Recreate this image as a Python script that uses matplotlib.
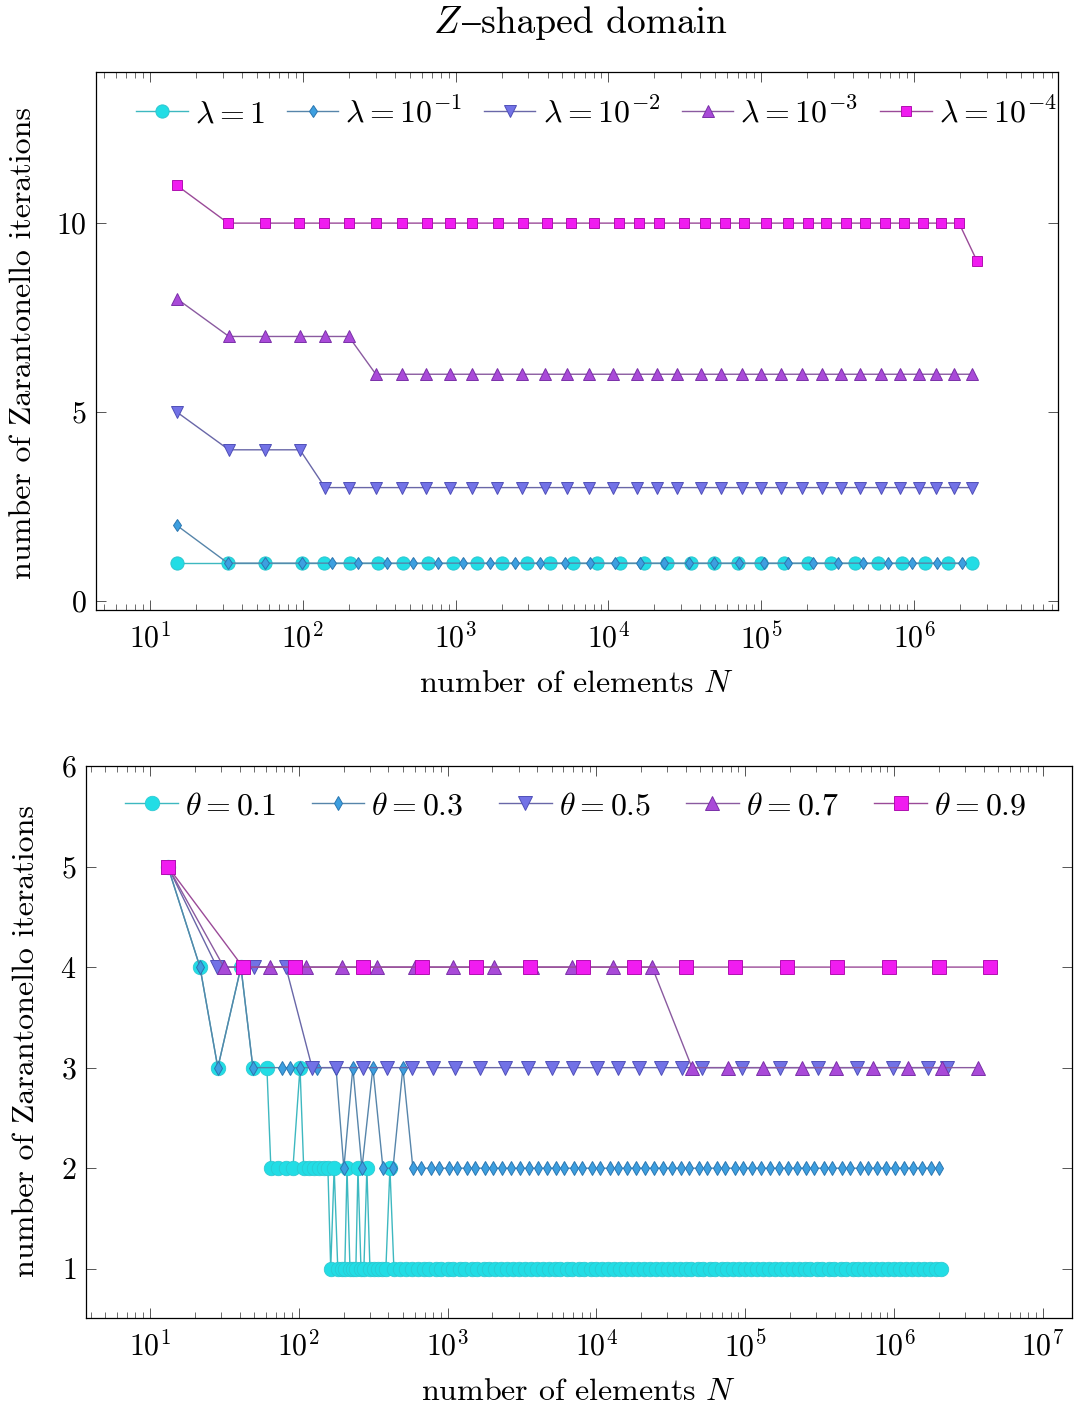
import numpy as np
import matplotlib
matplotlib.use("Agg")
import matplotlib.pyplot as plt
from matplotlib.ticker import LogLocator, NullFormatter
from matplotlib.offsetbox import TextArea, HPacker, AnchoredOffsetbox

plt.rcParams['font.family'] = ['cmr10', 'STIXGeneral']
plt.rcParams['mathtext.fontset'] = 'cm'
plt.rcParams['axes.formatter.use_mathtext'] = True

# ==========================================
# Top panel: dependence on lambda
# ==========================================
lam_labels = [r'$\lambda = 1$', r'$\lambda = 10^{-1}$', r'$\lambda = 10^{-2}$',
              r'$\lambda = 10^{-3}$', r'$\lambda = 10^{-4}$']

n_lam0 = [15, 32.4, 56.6, 98.9, 138, 204, 310, 453, 659, 962, 1380, 2010, 2930, 4150,
          5900, 8410, 12000, 17100, 24300, 34600, 49200, 70100, 99800, 142000, 202000,
          288000, 410000, 583000, 830000, 1180000, 1680000, 2400000]
it_lam0 = [1] * 32

n_lam1 = [15, 32.4, 56.6, 98.9, 155, 230, 355, 526, 767, 1120, 1680, 2450, 3570, 5200,
          7580, 11000, 16100, 23100, 33700, 49100, 71600, 104000, 150000, 218000, 318000,
          463000, 676000, 970000, 1420000, 2060000]
it_lam1 = [2] + [1] * 29

# lambda = 1e-2 and 1e-3 were run on the same meshes
n_lam23 = [15, 32.9, 56.6, 95.9, 140, 200, 301, 446, 640, 919, 1280, 1870, 2720, 3850,
           5360, 7460, 10700, 15400, 20800, 28100, 40400, 54600, 74800, 99700, 135000,
           185000, 250000, 333000, 443000, 608000, 809000, 1080000, 1390000, 1830000,
           2400000]
it_lam2 = [5, 4, 4, 4] + [3] * 31
it_lam3 = [8] + [7] * 5 + [6] * 29

n_lam4 = [15, 32.5, 56.6, 94.4, 138, 201, 300, 444, 647, 919, 1290, 1900, 2770, 3960,
          5690, 8050, 11700, 15800, 21400, 31200, 42900, 57900, 77100, 107000, 150000,
          202000, 265000, 359000, 478000, 646000, 861000, 1150000, 1500000, 1970000,
          2580000]
it_lam4 = [11] + [10] * 33 + [9]

# ==========================================
# Bottom panel: dependence on theta
# ==========================================
theta_labels = [r'$\theta = 0.1$', r'$\theta = 0.3$', r'$\theta = 0.5$',
                r'$\theta = 0.7$', r'$\theta = 0.9$']

n_th1 = [13.2, 21.7, 28.6, 40.9, 49.2, 61.1, 65.0, 72.5, 82.0, 91.4, 102, 108, 117, 126,
         137, 148, 157, 164, 173, 183, 195, 204, 211, 221, 231, 242, 250, 262, 274, 287,
         301, 320, 341, 362, 385, 410, 436,
         481, 522, 578, 629, 695, 756, 836, 909, 1004, 1093, 1207, 1314, 1451, 1580,
         1744, 1899, 2095, 2284, 2520, 2747, 3028, 3302, 3640, 3972, 4377, 4773, 5261,
         5739, 6326, 6901, 7605, 8297, 9143, 9975, 10990, 11990, 13210, 14410, 15890,
         17330, 19100, 20830, 22970, 25050, 27610, 30110, 33200, 36210, 39920, 43530,
         47990, 52330, 57700, 62920, 69370, 75650, 83410, 90940, 100300, 109300, 120500,
         131400, 144900, 158000, 174300, 189900, 209500, 228400, 251900, 274600, 302800,
         330100, 364100, 396900, 437700, 477200, 526200, 573700, 632700, 689800, 760700,
         829400, 914500, 997100, 1099000, 1199000, 1322000, 1441000, 1589000, 1733000,
         1910000, 2083000]
it_th1 = ([5, 4, 3, 4, 3, 3, 2, 2, 2, 2, 3, 2, 2, 2, 2, 2, 2, 1, 2, 1,
           1, 1, 2, 1, 1, 1, 2, 1, 1, 2, 1, 1, 1, 1, 1, 2, 1] + [1] * 92)

n_th3 = [13.2, 21.7, 28.6, 40.9, 49.2, 77.1, 87.3, 102, 132, 178, 201, 231, 266, 315,
         368, 430, 501, 585,
         668, 774, 881, 1021, 1162, 1346, 1531, 1773, 2019, 2337, 2661, 3082, 3509,
         4063, 4627, 5355, 6098, 7060, 8039, 9305, 10600, 12270, 13970, 16180, 18410,
         21320, 24280, 28100, 32010, 37050, 42190, 48830, 55620, 64380, 73320, 84870,
         96650, 111900, 127400, 147500, 168000, 194400, 221400, 256300, 291900, 337900,
         384800, 445400, 507200, 587200, 668600, 774100, 881300, 1020000, 1162000,
         1345000, 1532000, 1773000, 2019000]
it_th3 = [5, 4, 3, 4, 3, 3, 3, 3, 3, 3, 2, 3, 2, 3, 2, 2, 3, 2] + [2] * 59

n_th5 = [13.2, 28.2, 50.0, 82.0, 123, 178, 270, 391, 577, 798, 1120, 1650, 2430, 3470,
         5040, 6970, 10100, 14000, 19300, 27200, 37600, 51300, 95100, 171000, 308000,
         564000, 984000, 1690000, 2270000]
it_th5 = [5, 4, 4, 4] + [3] * 25

n_th7 = [13.2, 31.4, 64.0, 112, 195, 335, 604, 1090, 2050, 3690, 6860, 12900, 23700,
         43900, 76600, 132000, 241000, 407000, 723000, 1240000, 2100000, 3670000]
it_th7 = [5] + [4] * 12 + [3] * 9

n_th9 = [13.2, 42.2, 94.3, 270, 673, 1550, 3580, 8130, 17900, 40000, 85300, 191000,
         414000, 925000, 2000000, 4420000]
it_th9 = [5] + [4] * 15

# marker, face colour, edge colour, line colour
styles = [
    ('o', '#22dde5', '#2cc6cf', '#3db8c0'),
    ('d', '#3d9fe0', '#2a76b0', '#5685aa'),
    ('v', '#7272e6', '#4f4fb8', '#6967a8'),
    ('^', '#a94ad8', '#7a30a8', '#8a5aa0'),
    ('s', '#f01cf0', '#b010b0', '#9a4a98'),
]
top_ms = [9.5, 6.0, 8.0, 8.0, 7.8]
bot_ms = [10.5, 6.8, 9.5, 9.5, 9.4]

top_series = [(n_lam0, it_lam0), (n_lam1, it_lam1), (n_lam23, it_lam2),
              (n_lam23, it_lam3), (n_lam4, it_lam4)]
bot_series = [(n_th1, it_th1), (n_th3, it_th3), (n_th5, it_th5),
              (n_th7, it_th7), (n_th9, it_th9)]

W, H = 1074, 1410
fig = plt.figure(figsize=(W / 100, H / 100), dpi=100)
LABEL_FS = 23
LEGEND_FS = 23


def style_axes(ax, xlim, ylim, xdec, yticks):
    ax.set_xscale('log')
    ax.set_xlim(*xlim)
    ax.set_ylim(*ylim)
    ax.set_xticks([10.0 ** d for d in xdec], [r'$10^{%d}$' % d for d in xdec])
    ax.xaxis.set_minor_locator(LogLocator(base=10, subs=np.arange(2, 10), numticks=100))
    ax.xaxis.set_minor_formatter(NullFormatter())
    ax.set_yticks(yticks, [r'$%d$' % v for v in yticks])
    ax.tick_params(which='both', direction='in', top=True, right=True,
                   color='#555555', labelsize=21.5)
    ax.tick_params(which='major', length=7.5, width=0.7)
    ax.tick_params(which='minor', length=4.5, width=0.6)
    ax.tick_params(axis='x', pad=9)
    ax.tick_params(axis='y', pad=7)
    for sp in ax.spines.values():
        sp.set_linewidth(0.9)


def draw(ax, series, labels, sizes, edge_w):
    for (n, it), lab, (mk, fc, ec, lc), ms, ew in zip(series, labels, styles, sizes, edge_w):
        ax.plot(n, it, marker=mk, ms=ms, mfc=fc, mec=ec, mew=ew,
                color=lc, lw=1.0, label=lab)


# ---- top panel ----
ax1 = fig.add_axes([96 / W, 1 - 610 / H, (1058 - 96) / W, (610 - 72) / H])
draw(ax1, top_series, lam_labels, top_ms, [0.7] * 5)
style_axes(ax1, (4.44, 8.75e6), (-0.24, 14.0), range(1, 7), [0, 5, 10])
ax1.legend(ncol=5, loc='center left', bbox_to_anchor=(0.042, 0.924), frameon=False,
           fontsize=LEGEND_FS, handlelength=1.6, handletextpad=0.22, columnspacing=0.7,
           borderpad=0, borderaxespad=0)

# ---- bottom panel ----
ax2 = fig.add_axes([86 / W, 1 - 1318 / H, (1072 - 86) / W, (1318 - 766) / H])
draw(ax2, bot_series, theta_labels, bot_ms, [0.5, 0.7, 0.7, 0.7, 0.7])
style_axes(ax2, (3.72, 1.57e7), (0.51, 6.0), range(1, 8), [1, 2, 3, 4, 5, 6])
ax2.legend(ncol=5, loc='center left', bbox_to_anchor=(0.040, 0.9275), frameon=False,
           fontsize=LEGEND_FS, handlelength=1.65, handletextpad=0.22, columnspacing=1.1,
           borderpad=0, borderaxespad=0)

# title: the dash is taken from STIX, the rest from Computer Modern
title_parts = [TextArea(r'$Z$', textprops=dict(fontsize=27)),
               TextArea('–', textprops=dict(fontsize=27, family='STIXGeneral')),
               TextArea('shaped domain', textprops=dict(fontsize=27))]
title_box = HPacker(children=title_parts, align='baseline', pad=0, sep=0)
fig.add_artist(AnchoredOffsetbox(loc='center', child=title_box, frameon=False,
                                 bbox_to_anchor=(580 / W, 1 - 24 / H),
                                 bbox_transform=fig.transFigure, borderpad=0, pad=0))

# axis labels
fig.text(577 / W, 1 - 684 / H, r'number of elements $N$', ha='center', va='center',
         fontsize=LABEL_FS)
fig.text(579 / W, 1 - 1392 / H, r'number of elements $N$', ha='center', va='center',
         fontsize=LABEL_FS)
fig.text(23 / W, 1 - 343 / H, 'number of Zarantonello iterations', ha='center',
         va='center', rotation=90, fontsize=LABEL_FS)
fig.text(26 / W, 1 - 1041 / H, 'number of Zarantonello iterations', ha='center',
         va='center', rotation=90, fontsize=LABEL_FS)

fig.savefig('out.png', dpi=100)
